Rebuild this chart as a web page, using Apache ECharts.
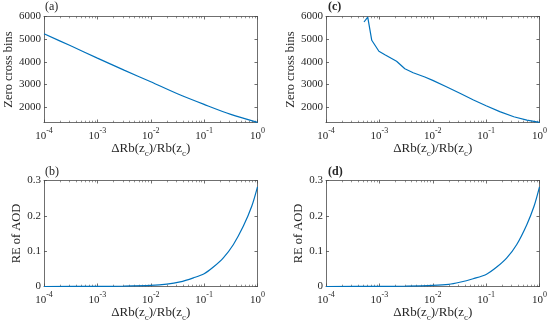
<!DOCTYPE html>
<html><head><meta charset="utf-8">
<script src="https://cdn.jsdelivr.net/npm/echarts@6/dist/echarts.min.js"></script>
<style>html,body{margin:0;padding:0;background:#fff}#c{width:550px;height:328px}</style>
</head><body><div id="c"></div>
<script>
// ---- data ----
const xA = [1e-4, 3.16e-4, 1e-3, 3.16e-3, 1e-2, 3.16e-2, 1e-1, 3.16e-1, 1];
const yA = [5235, 4706, 4162, 3632, 3118, 2588, 2118, 1676, 1326];

const xC = [5.15e-4, 6.05e-4, 7.2e-4, 9.8e-4, 1.27e-3, 2.1e-3, 3.0e-3, 4.3e-3, 7.1e-3, 1e-2, 1.8e-2, 3.3e-2, 5.8e-2, 1e-1, 1.8e-1, 3.3e-1, 5.8e-1, 1];
const yC = [5757, 5975, 4950, 4464, 4313, 4022, 3695, 3519, 3329, 3180, 2900, 2600, 2310, 2060, 1800, 1575, 1425, 1326];

const xB = [1e-4, 1e-3, 3.16e-3, 1e-2, 2e-2, 3.55e-2, 6.3e-2, 1e-1, 1.49e-1, 2.29e-1, 3.54e-1, 5.44e-1, 7.8e-1, 1];
const yB = [0.00003, 0.0003, 0.001, 0.003, 0.0065, 0.013, 0.0245, 0.036, 0.055, 0.081, 0.119, 0.171, 0.227, 0.282];

const xD = [1e-4, 1e-3, 3.16e-3, 1e-2, 2e-2, 3.2e-2, 5.7e-2, 1e-1, 1.58e-1, 2.44e-1, 3.75e-1, 5.78e-1, 7.9e-1, 1];
const yD = [0.00003, 0.0003, 0.001, 0.003, 0.006, 0.012, 0.022, 0.034, 0.055, 0.081, 0.119, 0.175, 0.227, 0.282];

const zeroTicks = [2000, 3000, 4000, 5000, 6000];
const reTicks = [0, 0.1, 0.2, 0.3];
const xMinorTicks = [2e-4,3e-4,4e-4,5e-4,6e-4,7e-4,8e-4,9e-4,
  2e-3,3e-3,4e-3,5e-3,6e-3,7e-3,8e-3,9e-3,
  2e-2,3e-2,4e-2,5e-2,6e-2,7e-2,8e-2,9e-2,
  0.2,0.3,0.4,0.5,0.6,0.7,0.8,0.9];
const panelLabels = ['(a)', '(b)', '(c)', '(d)'];
const yNames = ['Zero cross bins', 'RE of AOD', 'Zero cross bins', 'RE of AOD'];
const xName = '{n|ΔRb(z}{s|c}{n|)/Rb(z}{s|c}{n|)}';

// ---- styling ----
const FONT = '"Liberation Serif","Times New Roman",serif';
const AX = '#4a4a4a';
const TXT = '#262626';
const LINE = '#0072BD';

const grids = [
  {left: 44, top: 16.5, width: 213.5, height: 106},
  {left: 44, top: 180.5, width: 213.5, height: 106},
  {left: 326, top: 16.5, width: 213.5, height: 106},
  {left: 326, top: 180.5, width: 213.5, height: 106}
];

const xAxis = [], yAxis = [], series = [];
const datasets = [[xA, yA], [xB, yB], [xC, yC], [xD, yD]];
const isZero = [true, false, true, false];
const yNameGap = [29, 20, 27, 21];

grids.forEach((g, i) => {
  const base = {gridIndex: i, type: 'log', logBase: 10, min: 1e-4, max: 1,
    splitLine: {show: false}, minorTick: {show: false}};
  const mainIdx = xAxis.length;
  xAxis.push(Object.assign({}, base, {
    position: 'bottom',
    axisLine: {show: true, onZero: false, lineStyle: {color: AX, width: 0.8}},
    axisTick: {show: true, inside: true, length: 3, lineStyle: {color: AX, width: 0.8}},
    axisLabel: {
      margin: 4, color: TXT,
      formatter: v => '{b|10}{s|' + Math.round(Math.log10(v)) + '}',
      rich: {
        b: {fontFamily: FONT, fontSize: 11, color: TXT, verticalAlign: 'bottom'},
        s: {fontFamily: FONT, fontSize: 8, color: TXT, verticalAlign: 'bottom', padding: [0, 0, 7, 0]}
      }
    },
    name: xName, nameLocation: 'middle', nameGap: 19,
    nameTextStyle: {
      rich: {
        n: {fontFamily: FONT, fontSize: 13, color: TXT, verticalAlign: 'top'},
        s: {fontFamily: FONT, fontSize: 9, color: TXT, verticalAlign: 'top', padding: [7, 0, 0, 0]}
      }
    }
  }));
  xAxis.push(Object.assign({}, base, {
    position: 'bottom', axisLine: {show: false, onZero: false}, axisLabel: {show: false},
    axisTick: {show: true, inside: true, length: 1.8, customValues: xMinorTicks, lineStyle: {color: AX, width: 0.6}}
  }));
  xAxis.push(Object.assign({}, base, {
    position: 'top',
    axisLine: {show: true, onZero: false, lineStyle: {color: AX, width: 0.8}},
    axisTick: {show: true, inside: true, length: 3, lineStyle: {color: AX, width: 0.8}},
    axisLabel: {show: false}
  }));
  xAxis.push(Object.assign({}, base, {
    position: 'top', axisLine: {show: false, onZero: false}, axisLabel: {show: false},
    axisTick: {show: true, inside: true, length: 1.8, customValues: xMinorTicks, lineStyle: {color: AX, width: 0.6}}
  }));

  const yBase = isZero[i]
    ? {min: 1320, max: 6000}
    : {min: 0, max: 0.3, interval: 0.1};
  const ticks = isZero[i] ? zeroTicks : reTicks;
  const yMain = yAxis.length;
  yAxis.push(Object.assign({gridIndex: i, type: 'value', position: 'left'}, yBase, {
    splitLine: {show: false},
    axisLine: {show: true, onZero: false, lineStyle: {color: AX, width: 0.8}},
    axisTick: {show: true, inside: true, length: 3, customValues: ticks, lineStyle: {color: AX, width: 0.8}},
    axisLabel: {show: true, customValues: ticks, margin: 3, color: TXT, fontFamily: FONT, fontSize: 11,
      formatter: v => String(Math.round(v * 1000) / 1000)},
    name: yNames[i], nameLocation: 'middle', nameRotate: 90, nameGap: yNameGap[i],
    nameTextStyle: {fontFamily: FONT, fontSize: 12.5, color: TXT}
  }));
  yAxis.push(Object.assign({gridIndex: i, type: 'value', position: 'right'}, yBase, {
    splitLine: {show: false},
    axisLine: {show: true, onZero: false, lineStyle: {color: AX, width: 0.8}},
    axisTick: {show: true, inside: true, length: 3, customValues: ticks, lineStyle: {color: AX, width: 0.8}},
    axisLabel: {show: false}
  }));

  const [xs, ys] = datasets[i];
  series.push({
    type: 'line', xAxisIndex: mainIdx, yAxisIndex: yMain,
    data: xs.map((x, k) => [x, ys[k]]),
    showSymbol: false,
    smooth: i === 2 ? false : 0.3,
    lineStyle: {color: LINE, width: 1.2}, itemStyle: {color: LINE},
    clip: true, animation: false
  });
});

const graphic = [
  {type: 'text', left: 45, top: 1, style: {text: panelLabels[0], font: '12px ' + FONT, fill: TXT}},
  {type: 'text', left: 45, top: 166, style: {text: panelLabels[1], font: '12px ' + FONT, fill: TXT}},
  {type: 'text', left: 328, top: 1, style: {text: panelLabels[2], font: 'bold 12px ' + FONT, fill: TXT}},
  {type: 'text', left: 328, top: 166, style: {text: panelLabels[3], font: 'bold 12px ' + FONT, fill: TXT}}
];

const chart = echarts.init(document.getElementById('c'), null, {renderer: 'canvas'});
chart.setOption({
  animation: false,
  backgroundColor: '#fff',
  grid: grids.map(g => Object.assign({containLabel: false, outerBoundsMode: 'none'}, g)),
  xAxis, yAxis, series, graphic
});
</script></body></html>
